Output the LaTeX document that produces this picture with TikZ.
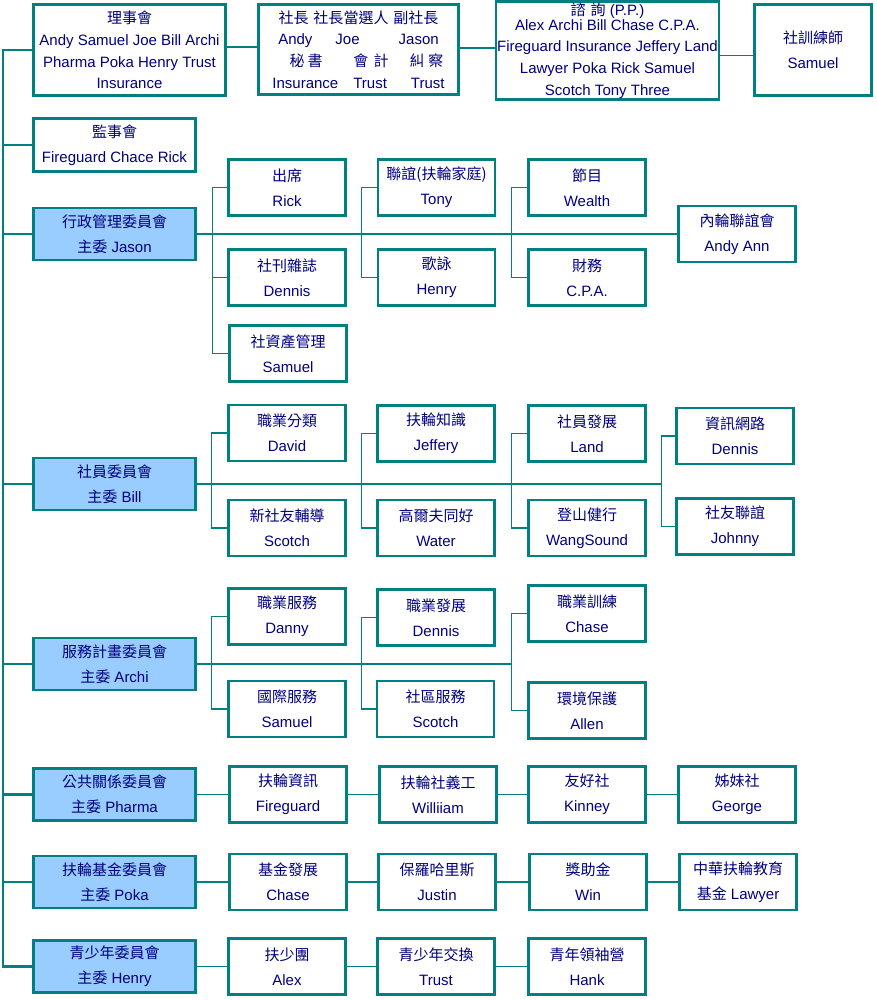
\documentclass[tikz,border=0pt]{standalone}
\usepackage{fontspec}
\setmainfont{Liberation Sans}
\newfontfamily\cjkfont{Noto Sans CJK TC}
\newcommand{\zh}[1]{{\cjkfont #1}}
\usepackage{tikz}
\usetikzlibrary{positioning,calc}
\definecolor{rtteal}{HTML}{008080}
\definecolor{rtnavy}{HTML}{000080}
\definecolor{rtblue}{HTML}{99CCFF}

\begin{document}
\begin{tikzpicture}[
    x=1pt, y=-1pt,
    every node/.style={font=\fontsize{15}{25}\selectfont, text=rtnavy},
    unit/.style={rectangle, draw=rtteal, fill=white, line width=2.5pt, minimum width=117pt, minimum height=56pt, align=center, inner sep=2pt},
    committee/.style={unit, fill=rtblue, minimum width=162pt, minimum height=52pt},
    board/.style={unit, font=\fontsize{15}{21.7}\selectfont, minimum height=91pt},
    link/.style={draw=rtteal, line width=1.3pt},
    trunk/.style={draw=rtteal, line width=2.2pt}
]
    \useasboundingbox (0,0) rectangle (877,1000);

    % Top row
    \node (lishi) [board, minimum width=192pt] at (129.5,50) {\zh{理事會}\\Andy Samuel Joe Bill Archi\\Pharma Poka Henry Trust\\Insurance};
    \node (shezhang) [board, minimum width=200pt, minimum height=90pt] at (358.5,49.5) {\zh{社長}\hspace{5pt}\zh{社長當選人}\hspace{5pt}\zh{副社長}\\Andy\hspace{23pt}Joe\hspace{39pt}Jason\\\hspace*{16pt}\zh{秘\hspace{3pt}書}\hspace{31pt}\zh{會\hspace{5pt}計}\hspace{21pt}\zh{糾\hspace{4pt}察}\\Insurance\hspace{15pt}Trust\hspace{24pt}Trust};
    \node (zixun) [board, minimum width=222pt, minimum height=92pt, inner sep=1pt] at (607.5,50.5) {\zh{諮\hspace{5pt}詢} (P.P.)\\[-6.7pt]Alex Archi Bill Chase C.P.A.\\Fireguard Insurance Jeffery Land\\Lawyer Poka Rick Samuel\\Scotch Tony Three};
    \node (xunlian) [unit, minimum height=91pt] at (813,50) {\zh{社訓練師}\\Samuel};
    \node (jianshi) [unit, minimum width=162pt, minimum height=53pt] at (114.5,145) {\zh{監事會}\\Fireguard Chace Rick};

    % Administration
    \node (xingzheng) [committee] at (114.5,234) {\zh{行政管理委員會}\\\zh{主委} Jason};
    \node (chuxi) [unit] at (287,187.5) {\zh{出席}\\Rick};
    \node (shekan) [unit] at (287,277.5) {\zh{社刊雜誌}\\Dennis};
    \node (zichan) [unit] at (288,353.5) {\zh{社資產管理}\\Samuel};
    \node (lianyi) [unit] at (436.5,187.5) {\zh{聯誼(扶輪家庭)}\\Tony};
    \node (geyong) [unit] at (436.5,277.5) {\zh{歌詠}\\Henry};
    \node (jiemu) [unit] at (587,187.5) {\zh{節目}\\Wealth};
    \node (caiwu) [unit] at (587,277.5) {\zh{財務}\\C.P.A.};
    \node (neilun) [unit] at (737,234) {\zh{內輪聯誼會}\\Andy Ann};

    % Membership
    \node (sheyuan) [committee] at (114.5,484) {\zh{社員委員會}\\\zh{主委} Bill};
    \node (fenlei) [unit] at (287,433) {\zh{職業分類}\\David};
    \node (xinsheyou) [unit] at (287,528) {\zh{新社友輔導}\\Scotch};
    \node (zhishi) [unit] at (436,433.5) {\zh{扶輪知識}\\Jeffery};
    \node (gaoerfu) [unit] at (436,528) {\zh{高爾夫同好}\\Water};
    \node (fazhan) [unit] at (587,433.5) {\zh{社員發展}\\Land};
    \node (dengshan) [unit] at (587,528) {\zh{登山健行}\\WangSound};
    \node (wanglu) [unit] at (735,436) {\zh{資訊網路}\\Dennis};
    \node (sheyou) [unit] at (735,526.5) {\zh{社友聯誼}\\Johnny};

    % Service projects
    \node (fuwu) [committee] at (114.5,664) {\zh{服務計畫委員會}\\\zh{主委} Archi};
    \node (zhiyefuwu) [unit] at (287,616.5) {\zh{職業服務}\\Danny};
    \node (guoji) [unit] at (287,709) {\zh{國際服務}\\Samuel};
    \node (zhiyefazhan) [unit] at (436,617.5) {\zh{職業發展}\\Dennis};
    \node (shequ) [unit] at (435.5,709) {\zh{社區服務}\\Scotch};
    \node (zhiyexunlian) [unit] at (587,613.5) {\zh{職業訓練}\\Chase};
    \node (huanjing) [unit] at (587,710.5) {\zh{環境保護}\\Allen};

    % Public relations
    \node (gonggong) [committee] at (114.5,794.5) {\zh{公共關係委員會}\\\zh{主委} Pharma};
    \node (fulunzixun) [unit] at (288,794.5) {\zh{扶輪資訊}\\Fireguard};
    \node (yigong) [unit] at (438,794.5) {\zh{扶輪社義工}\\Williiam};
    \node (youhao) [unit] at (587,794.5) {\zh{友好社}\\Kinney};
    \node (jiemei) [unit] at (737,794.5) {\zh{姊妹社}\\George};

    % Foundation
    \node (jijin) [committee] at (114.5,882) {\zh{扶輪基金委員會}\\\zh{主委} Poka};
    \node (jijinfazhan) [unit] at (288,882) {\zh{基金發展}\\Chase};
    \node (baoluo) [unit] at (437,882) {\zh{保羅哈里斯}\\Justin};
    \node (zhuxuejin) [unit] at (588,882) {\zh{獎助金}\\Win};
    \node (zhonghua) [unit] at (738,882) {\zh{中華扶輪教育}\\\zh{基金} Lawyer};

    % Youth
    \node (qingshao) [committee] at (114.5,966.5) {\zh{青少年委員會}\\\zh{主委} Henry};
    \node (fushao) [unit] at (287,966.5) {\zh{扶少團}\\Alex};
    \node (jiaohuan) [unit] at (436,966.5) {\zh{青少年交換}\\Trust};
    \node (lingxiu) [unit] at (587,966.5) {\zh{青年領袖營}\\Hank};

    % Trunk
    \coordinate (trunktop) at (3,50);
    \coordinate (trunkbot) at (3,966.5);
    \draw [trunk] (lishi.west) -- (trunktop) -- (trunkbot) -- (qingshao.west);
    \draw [trunk] (jianshi.west) -- (jianshi.west -| trunktop);
    \draw [trunk] (xingzheng.west) -- (xingzheng.west -| trunktop);
    \draw [trunk] (sheyuan.west) -- (sheyuan.west -| trunktop);
    \draw [trunk] (fuwu.west) -- (fuwu.west -| trunktop);
    \draw [trunk] (gonggong.west) -- (gonggong.west -| trunktop);
    \draw [trunk] (jijin.west) -- (jijin.west -| trunktop);

    % Top row links
    \draw [link] ([yshift=3pt]lishi.east) -- ([yshift=3pt]lishi.east -| shezhang.west);
    \draw [link] ([yshift=1.5pt]shezhang.east) -- ([yshift=1.5pt]shezhang.east -| zixun.west);
    \draw [link] ([yshift=-5pt]zixun.east) -- ([yshift=-5pt]zixun.east -| xunlian.west);

    % Administration links
    \draw [link] (xingzheng.east) -- (neilun.west);
    \draw [link] (chuxi.west) -- ++(-15,0) |- (zichan.west);
    \draw [link] (shekan.west) -- ++(-15,0);
    \draw [link] (lianyi.west) -- ++(-15,0) |- (geyong.west);
    \draw [link] (jiemu.west) -- ++(-16,0) |- (caiwu.west);

    % Membership links
    \draw [link] (sheyuan.east) -- ([xshift=-14pt]sheyuan.east -| wanglu.west);
    \draw [link] (fenlei.west) -- ++(-16,0) |- (xinsheyou.west);
    \draw [link] (zhishi.west) -- ++(-15,0) |- (gaoerfu.west);
    \draw [link] (fazhan.west) -- ++(-16,0) |- (dengshan.west);
    \draw [link] (wanglu.west) -- ++(-14,0) |- (sheyou.west);

    % Service links
    \draw [link] (fuwu.east) -- ([xshift=-16pt]fuwu.east -| zhiyexunlian.west);
    \draw [link] (zhiyefuwu.west) -- ++(-16,0) |- (guoji.west);
    \draw [link] (zhiyefazhan.west) -- ++(-15,0) |- (shequ.west);
    \draw [link] (zhiyexunlian.west) -- ++(-16,0) |- (huanjing.west);

    % Chains
    \draw [link] (gonggong.east) -- (fulunzixun.west);
    \draw [link] (fulunzixun.east) -- (yigong.west);
    \draw [link] (yigong.east) -- (youhao.west);
    \draw [link] (youhao.east) -- (jiemei.west);
    \draw [link] (jijin.east) -- (jijinfazhan.west);
    \draw [link] (jijinfazhan.east) -- (baoluo.west);
    \draw [link] (baoluo.east) -- (zhuxuejin.west);
    \draw [link] (zhuxuejin.east) -- (zhonghua.west);
    \draw [link] (qingshao.east) -- (fushao.west);
    \draw [link] (fushao.east) -- (jiaohuan.west);
    \draw [link] (jiaohuan.east) -- (lingxiu.west);
\end{tikzpicture}
\end{document}
